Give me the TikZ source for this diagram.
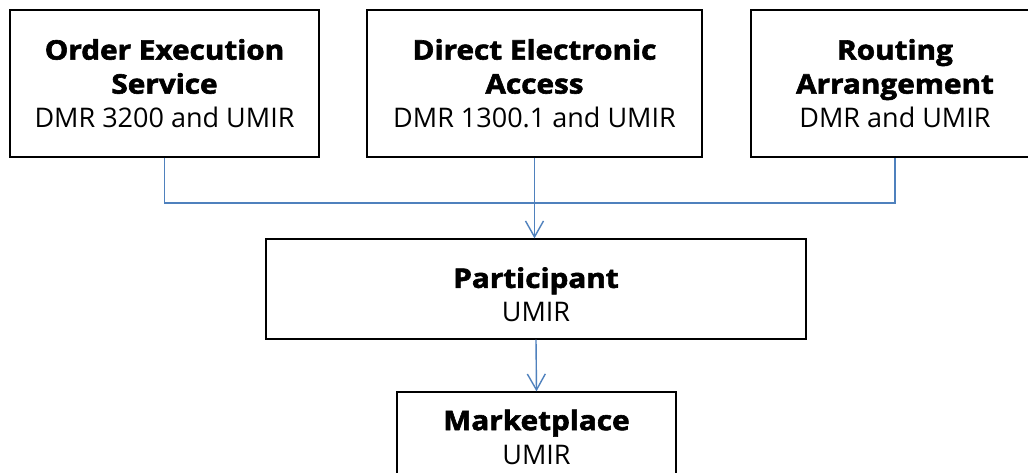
\documentclass[tikz,border=0pt]{standalone}
\usepackage{fontspec}
\setmainfont{Open Sans}[BoldFeatures={FakeBold=2.2,FakeStretch=1.1}]
\usetikzlibrary{arrows.meta}
\definecolor{linkblue}{HTML}{4F81BD}
\newcommand{\dn}[1]{\rule{0pt}{#1}}
\tikzset{
  box/.style={draw=black, line width=1.3pt, fill=white, inner sep=0pt, align=center,
    font=\fontsize{27}{34}\selectfont},
  link/.style={draw=linkblue, line width=1.4pt},
  arr/.style={link, -{Straight Barb[length=16pt,width=18pt,line width=1.4pt]}},
}
\begin{document}
\begin{tikzpicture}[x=1pt,y=1pt]
\useasboundingbox (0,0) rectangle (1028,472);
\clip (0,0) rectangle (1028,472);
\fill[white] (0,0) rectangle (1028,472);
\node[box, minimum width=309pt, minimum height=147pt] (b1) at (164.5,388.5)
  {\textbf{Order Execution}\\\textbf{Service}\\DMR 3200 and UMIR};
\node[box, minimum width=335pt, minimum height=147pt] (b2) at (534.5,388.5)
  {\textbf{Direct Electronic}\\\textbf{Access}\\DMR 1300.1 and UMIR};
\node[box, minimum width=288pt, minimum height=147pt] (b3) at (895,388.5)
  {\textbf{Routing}\\\textbf{Arrangement}\\DMR and UMIR};
\node[box, minimum width=540pt, minimum height=100pt] (p) at (536,183)
  {\dn{32pt}\textbf{Participant}\\UMIR};
\node[box, minimum width=279pt, minimum height=90pt] (m) at (536.5,35)
  {\textbf{Marketplace}\\UMIR};
\coordinate (j) at (534.5,269);
\draw[link] (b1.south) |- (j) -| (b3.south);
\draw[arr] (b2.south) -- (b2.south |- p.north);
\draw[arr] (p.south) -- (m.north);
\end{tikzpicture}
\end{document}
